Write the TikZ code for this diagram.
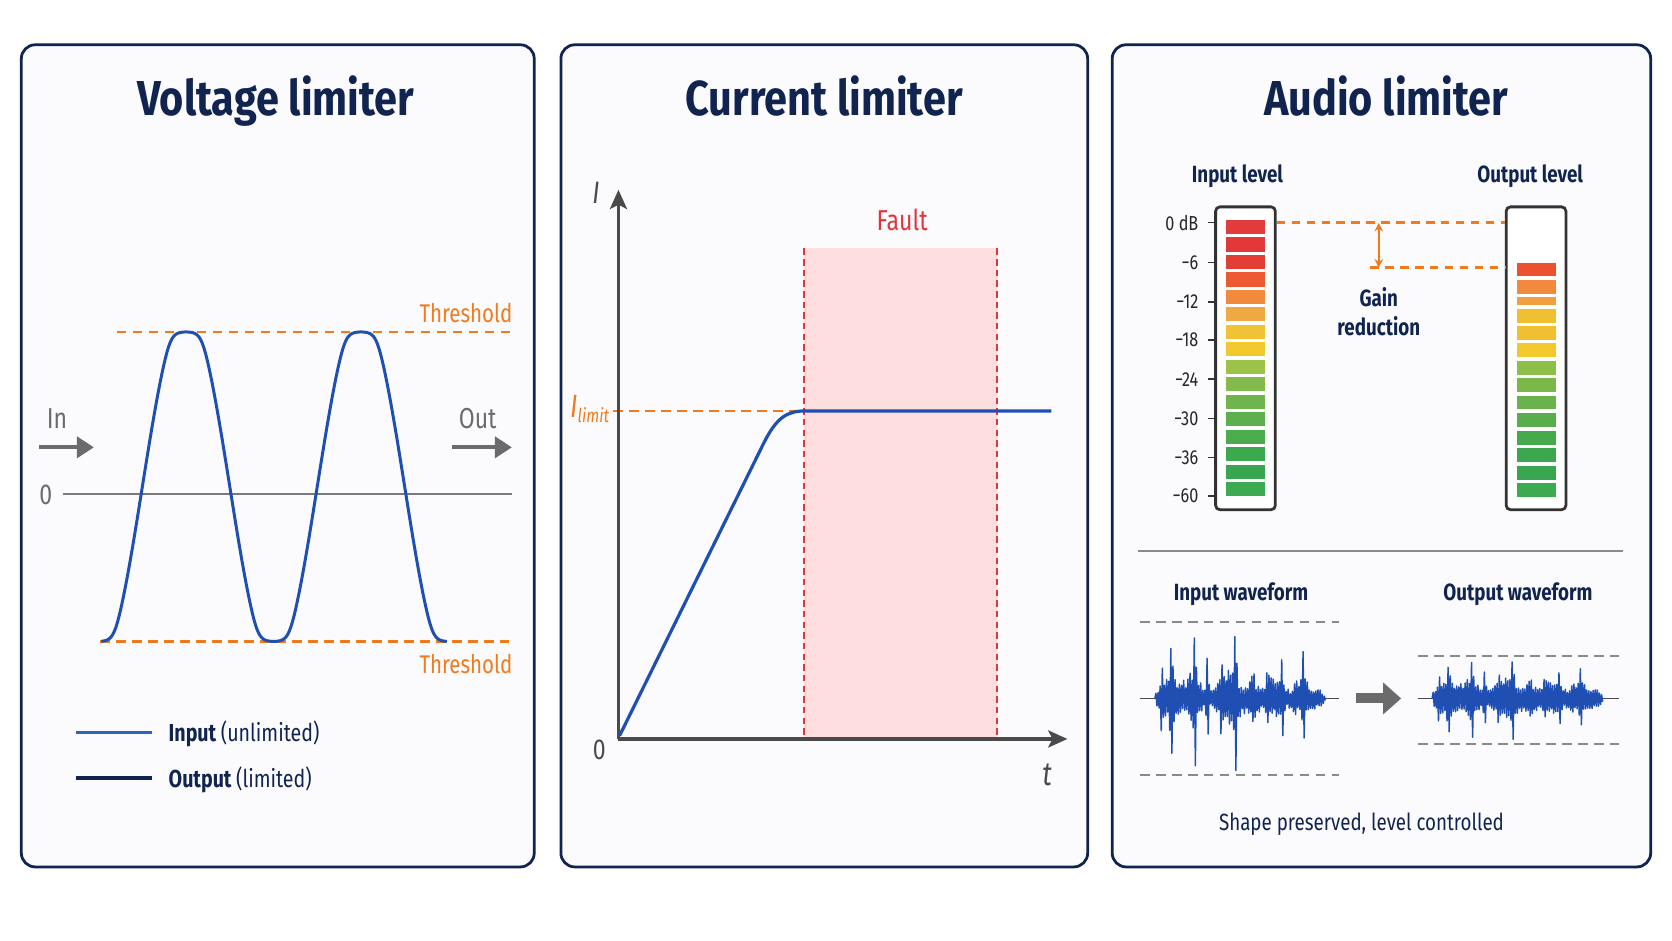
\documentclass[tikz,border=0pt]{standalone}
\usepackage{fontspec}
\setmainfont{Fira Sans}[FakeStretch=0.8]
\newfontfamily\titlefont{Fira Sans}[FakeStretch=0.845]
\usetikzlibrary{arrows.meta}
\definecolor{navy}{HTML}{10244F}
\definecolor{panelbg}{HTML}{FBFBFD}
\definecolor{wblue}{HTML}{1F4FB3}
\definecolor{lblue}{HTML}{2B62C4}
\definecolor{orng}{HTML}{F07A1E}
\definecolor{axgray}{HTML}{4A4A4A}
\definecolor{agray}{HTML}{6B6B6B}
\definecolor{zgray}{HTML}{7A7A7A}
\definecolor{fred}{HTML}{E2363C}
\definecolor{fpink}{HTML}{FDDDDD}
\definecolor{dgray}{HTML}{8A8A8A}
\definecolor{mframe}{HTML}{333333}
\definecolor{m1}{HTML}{E23B3B}
\definecolor{m2}{HTML}{E2383A}
\definecolor{m3}{HTML}{E33E36}
\definecolor{m4}{HTML}{EC5A33}
\definecolor{m5}{HTML}{F18A3C}
\definecolor{m6}{HTML}{F0A843}
\definecolor{m7}{HTML}{F0C235}
\definecolor{m8}{HTML}{F2C92D}
\definecolor{m9}{HTML}{9CC24A}
\definecolor{m10}{HTML}{84BA4C}
\definecolor{m11}{HTML}{6FB44C}
\definecolor{m12}{HTML}{5DB04D}
\definecolor{m13}{HTML}{4BAC4E}
\definecolor{m14}{HTML}{3DA94F}
\definecolor{m15}{HTML}{38A64F}
\definecolor{m16}{HTML}{3BAA50}
\definecolor{o1}{HTML}{EC5230}
\definecolor{o3}{HTML}{F0A040}
\definecolor{o4}{HTML}{F0C030}
\definecolor{o7}{HTML}{8CBE4A}
\definecolor{o8}{HTML}{7AB84A}
\definecolor{o9}{HTML}{6AB24B}
\definecolor{o10}{HTML}{58AE4C}
\definecolor{o11}{HTML}{45AA4E}
\definecolor{o12}{HTML}{3CA74F}
\begin{document}
\begin{tikzpicture}[x=1pt,y=-1pt,
  panel/.style={draw=navy, line width=2.6, rounded corners=13, fill=panelbg},
  title/.style={font=\titlefont\bfseries\fontsize{46}{50}\selectfont, text=navy, anchor=base, inner sep=0},
  lab/.style={font=\fontsize{23}{26}\selectfont, text=navy, inner sep=0},
  glab/.style={font=\fontsize{27}{30}\selectfont, text=agray, inner sep=0},
  olab/.style={font=\fontsize{24}{28}\selectfont, text=orng, inner sep=0},
  mlab/.style={font=\fontsize{19}{20}\selectfont, text=black!85, inner sep=0, anchor=east},
  thr/.style={orng, line width=2.2, dash pattern=on 9 off 6},
  vwave/.style={wblue, line width=2.8, line join=round},
  grayarrow/.style={agray, line width=3.5, -{Triangle[length=16,width=20]}},
  axis/.style={axgray, line width=3, -{Stealth[length=18,width=16,inset=4]}},
  fdash/.style={fred, line width=1.5, dash pattern=on 6 off 4},
  meter/.style={draw=mframe, line width=2.6, rounded corners=4, fill=white, minimum width=56, minimum height=284, inner sep=0},
  gdash/.style={dgray, line width=2, dash pattern=on 9 off 6},
  awave/.style={wblue, line width=1.35, line join=round},
  declare function={
    vs(\x)=sin((\x-92.5)/164*360-90);
    vc(\s)=1.12*\s/(pow(1+pow(abs(1.12*\s),16),0.0625))/0.9906;
    bmp(\u,\c,\w)=exp(-min(((\u-\c)/\w)*((\u-\c)/\w),20));
    spk(\u)=23*bmp(\u,6.5,1.3)+37*bmp(\u,15.5,1.3)+49*bmp(\u,37.5,1.3)+34*bmp(\u,49.5,1.3)+21*bmp(\u,62.5,1.3)+51*bmp(\u,75.5,1.3)+15*bmp(\u,92.5,1.3)+13*bmp(\u,105.5,1.3)+26*bmp(\u,119.5,1.3)+27*bmp(\u,139.5,1.3);
    brd(\u)=22*bmp(\u,14,10)+26*bmp(\u,36,10)+28*bmp(\u,70,13)+14*bmp(\u,92,8)+20*bmp(\u,112,11)+20*bmp(\u,138,9)+7*bmp(\u,153,6)+2;
  }]
\useasboundingbox (0,0) rectangle (1568,882);
\fill[white] (0,0) rectangle (1568,882);

% ---------- panels
\draw[panel] (20,42) rectangle (501,813);
\draw[panel] (526,42) rectangle (1020,813);
\draw[panel] (1043,42) rectangle (1548,813);
\node[title] (t1) at (258.6,108) {Voltage limiter};
\node[title] (t2) at (773,108) {Current limiter};
\node[title] (t3) at (1300,108) {Audio limiter};

% ---------- panel 1: voltage limiter
\draw[zgray, line width=1.6] (59,463.3) -- (480.6,463.3);
\node[glab, anchor=base] (zero1) at (43,472.7) {0};
\draw[thr] (109.5,311.3) -- (480.6,311.3);
\draw[thr] (93.8,601.5) -- (480.6,601.5);
\node[olab, anchor=base east] (thtop) at (480.6,302.6) {Threshold};
\node[olab, anchor=base east] (thbot) at (480.6,632) {Threshold};
\node[glab, anchor=base] (inl) at (53.5,401.8) {In};
\node[glab, anchor=base] (outl) at (448,401.8) {Out};
\coordinate (ina) at (37,419.5);
\coordinate (inb) at (88,419.5);
\coordinate (outa) at (424,419.5);
\coordinate (outb) at (480,419.5);
\draw[grayarrow] (ina) -- (inb);
\draw[grayarrow] (outa) -- (outb);
\draw[vwave] plot[domain=95:419, samples=330] (\x, {456.4-145.1*vc(vs(\x))});
\coordinate (l1a) at (71.3,686.9);
\coordinate (l1b) at (142.4,686.9);
\coordinate (l2a) at (71.3,729.6);
\coordinate (l2b) at (142.4,729.6);
\draw[lblue, line width=3.2] (l1a) -- (l1b);
\draw[navy, line width=3.2] (l2a) -- (l2b);
\node[lab, anchor=base west] (leg1) at (158,695.5) {\bfseries Input \mdseries(unlimited)};
\node[lab, anchor=base west] (leg2) at (158,738.3) {\bfseries Output \mdseries(limited)};

% ---------- panel 2: current limiter
\fill[fpink] (754,233) rectangle (935,693);
\draw[fdash] (754,233) -- (754,693);
\draw[fdash] (935,233) -- (935,693);
\node[font=\fontsize{27}{30}\selectfont, text=fred, anchor=base, inner sep=0] (fault) at (846,216.2) {Fault};
\coordinate (O) at (580,693);
\coordinate (ytip) at (580,178);
\coordinate (xtip) at (1001,693);
\draw[orng, line width=2.2, dash pattern=on 9 off 6] (575,385.4) -- (754,385.4);
\draw[axis] (O) -- (ytip);
\draw[axis] (O) -- (xtip);
\draw[wblue, line width=3, line join=round] (581,690) -- (716,416) .. controls (728,391.8) and (738,385.4) .. (754.7,385.4) -- (986,385.4);
\node[font=\itshape\fontsize{29}{30}\selectfont, text=axgray, anchor=base, inner sep=0] (ilab) at (559,190.8) {I};
\node[font=\itshape\fontsize{31}{32}\selectfont, text=axgray, anchor=base, inner sep=0] (tlab) at (982,737) {t};
\node[glab, text=axgray, anchor=base] (zero2) at (562,711.8) {0};
\node[text=orng, anchor=base, inner sep=0] (ilim) at (553,391.5) {\fontsize{30}{30}\selectfont\itshape I\fontsize{18}{20}\selectfont\raisebox{-5pt}{limit}};

% ---------- panel 3: audio limiter
\node[lab, font=\bfseries\fontsize{22}{26}\selectfont, anchor=base] (inlev) at (1160.5,171.3) {Input level};
\node[lab, font=\bfseries\fontsize{22}{26}\selectfont, anchor=base] (outlev) at (1435,171.3) {Output level};
\node[meter] (min) at (1168,336) {};
\node[meter] (mout) at (1440.5,336) {};
\foreach \c [count=\k from 0] in {m1,m2,m3,m4,m5,m6,m7,m8,m9,m10,m11,m12,m13,m14,m15,m16}
  \fill[\c] (1150,{206.3+16.4*\k}) rectangle ++(36,13.2);
\foreach \t/\h/\c in {246.4/12.8/o1, 262.7/12.8/m5, 278.2/8/o3, 289.8/12.8/o4, 305.4/13/o4, 322/13/m8, 338.5/13/o7, 354.8/13/o8, 371/13/o9, 387.6/13/o10, 403.9/13/o11, 420.4/13/o12, 437/13/m15, 453.3/13/m16}
  \fill[\c] (1423,\t) rectangle ++(36.5,\h);
\foreach \y/\l [count=\k] in {208.8/0 dB, 246/−6, 283/−12, 319/−18, 355.7/−24, 392.3/−30, 429/−36, 465.2/−60}{
  \draw[mframe, line width=1.5] (1133,\y) -- (1141,\y);
  \node[mlab] (ml\k) at (1124,\y) {\l};
}
\coordinate (g1) at (1293,209);
\coordinate (g2) at (1293,251);
\draw[orng, line width=2.2, dash pattern=on 8 off 6] (ml1 -| min.east) -- (ml1 -| mout.west);
\draw[orng, line width=2.2, dash pattern=on 8 off 6] (1285,251) -- (g2 -| mout.west);
\draw[orng, line width=2.2, {Stealth[length=8,width=8]}-{Stealth[length=8,width=8]}] (g1) -- (g2);
\node[lab, font=\bfseries\fontsize{22}{26}\selectfont, anchor=base] (gain) at (1293,287.6) {Gain};
\node[lab, font=\bfseries\fontsize{22}{26}\selectfont, anchor=base] (red) at (1293,314.2) {reduction};

\draw[dgray, line width=1.8] (1067,516.4) -- (1522,516.4);
\node[lab, font=\bfseries\fontsize{22}{26}\selectfont, anchor=base] (inw) at (1163.8,562.7) {Input waveform};
\node[lab, font=\bfseries\fontsize{22}{26}\selectfont, anchor=base] (outw) at (1423.5,562.7) {Output waveform};

% input waveform
\draw[gdash] (1069,583) -- (1256,583);
\draw[gdash] (1069,727) -- (1256,727);
\draw[axgray, line width=1.6] (1069,655) -- (1256,655);
\pgfmathsetseed{11}
\draw[awave] (1083,655) \foreach \i [evaluate=\i as \a using spk(\i)+brd(\i)*(0.45+0.55*rnd)] in {1,...,160} { -- ({1083+\i},{655+(1-2*mod(\i,2))*\a}) };

% output waveform
\draw[gdash] (1330,615) -- (1518,615);
\draw[gdash] (1330,697.7) -- (1518,697.7);
\draw[axgray, line width=1.6] (1330,655) -- (1518,655);
\pgfmathsetseed{11}
\draw[awave] (1343,655) \foreach \i [evaluate=\i as \a using 40*((spk(\i)+brd(\i)*(0.45+0.55*rnd)+0.5)/72)^0.75] in {1,...,160} { -- ({1343+\i},{655+(1-2*mod(\i,2))*\a}) };

\coordinate (ba) at (1272,655);
\coordinate (bb) at (1314,655);
\draw[agray, line width=9.4, -{Triangle[length=17,width=29]}] (ba) -- (bb);

\node[lab, font=\fontsize{22}{26}\selectfont, anchor=base] (shape) at (1276.8,778.4) {Shape preserved, level controlled};
\end{tikzpicture}
\end{document}
